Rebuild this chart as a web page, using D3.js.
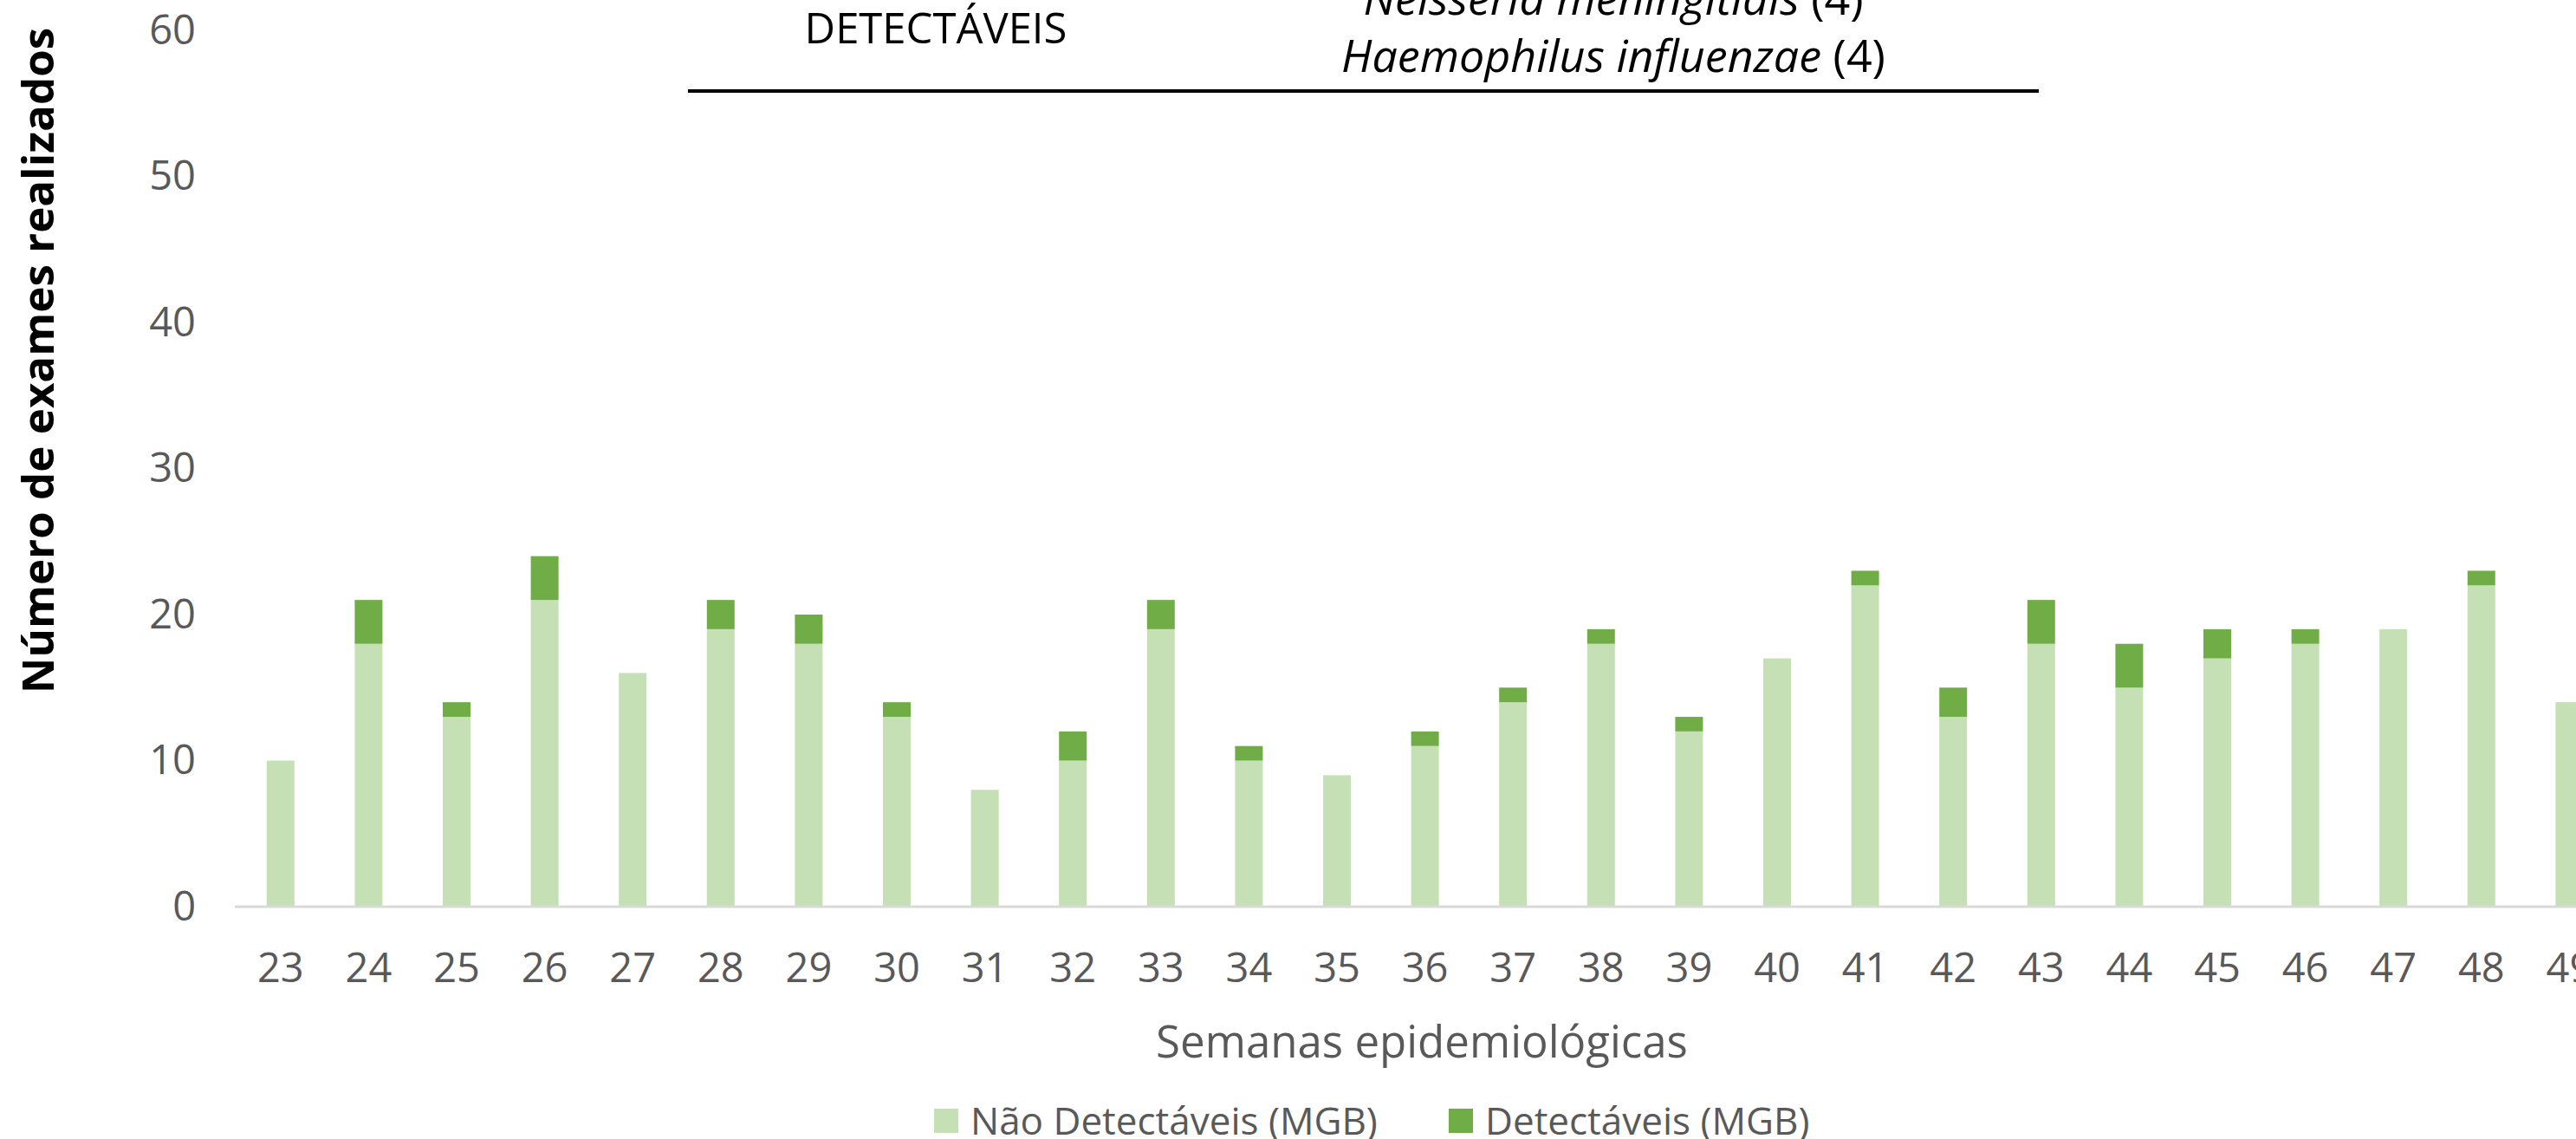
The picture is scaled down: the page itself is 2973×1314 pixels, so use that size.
<!DOCTYPE html>
<html>
<head>
<meta charset="utf-8">
<script src="https://cdn.jsdelivr.net/npm/d3@7"></script>
<style>
    body { margin: 0; background: #fff; }
    text { font-family: "Open Sans", sans-serif; }
</style>
</head>
<body>
<div id="chart"></div>
<script>

const weeks = ["23", "24", "25", "26", "27", "28", "29", "30", "31", "32", "33", "34", "35", "36",
    "37", "38", "39", "40", "41", "42", "43", "44", "45", "46", "47", "48", "49"];
const naoDetectaveis = [10, 18, 13, 21, 16, 19, 18, 13, 8, 10, 19, 10, 9, 11,
    14, 18, 12, 17, 22, 13, 18, 15, 17, 18, 19, 22, 14];
const detectaveis = [0, 3, 1, 3, 0, 2, 2, 1, 0, 2, 2, 1, 0, 1,
    1, 1, 1, 0, 1, 2, 3, 3, 2, 1, 0, 1, 0];
const yTicks = [0, 10, 20, 30, 40, 50, 60];

const seriesNames = ["Não Detectáveis (MGB)", "Detectáveis (MGB)"];
const seriesColors = ["#c5e0b4", "#70ad47"];

function drawStackedBars() {

    const dimesions = {
        width: 2973,
        height: 1314,
        margin: {
            top: 35,
            bottom: 268,
            left: 273,
            right: 0
        },
        step: 101.6
    }

    const data = weeks.map((w, i) => ({ week: w, nao: naoDetectaveis[i], det: detectaveis[i] }));

    const svg = d3.select("#chart")
        .append("svg")
        .attr("width", dimesions.width)
        .attr("height", dimesions.height);

    const baseline = dimesions.height - dimesions.margin.bottom;

    const xScale = d3.scaleBand()
        .domain(weeks)
        .range([dimesions.margin.left, dimesions.margin.left + weeks.length * dimesions.step])
        .paddingInner(0.685)
        .paddingOuter(0.3425);

    const yScale = d3.scaleLinear()
        .domain([0, 60])
        .range([baseline, dimesions.margin.top]);

    const stack = d3.stack().keys(["nao", "det"]);
    const layers = stack(data);

    svg.append("g")
        .selectAll("g")
        .data(layers)
        .join("g")
        .attr("fill", (d, i) => seriesColors[i])
        .selectAll("rect")
        .data(d => d)
        .join("rect")
        .attr("x", d => xScale(d.data.week))
        .attr("width", xScale.bandwidth())
        .attr("y", d => yScale(d[1]))
        .attr("height", d => yScale(d[0]) - yScale(d[1]));

    // x axis
    const xAxis = d3.axisBottom(xScale).tickSize(0).tickPadding(54);
    const xAxisGroup = svg.append("g")
        .attr("transform", `translate(0, ${baseline})`)
        .call(xAxis);
    xAxisGroup.select(".domain")
        .attr("stroke", "#d9d9d9")
        .attr("stroke-width", 3)
        .attr("d", `M${dimesions.margin.left - 2},0H${dimesions.width}`);
    xAxisGroup.selectAll("text")
        .attr("fill", "#595959")
        .style("font-size", "47px");

    // y axis
    const yAxis = d3.axisLeft(yScale).tickValues(yTicks).tickSize(0).tickPadding(45);
    const yAxisGroup = svg.append("g")
        .attr("transform", `translate(${dimesions.margin.left - 2}, 0)`)
        .call(yAxis);
    yAxisGroup.select(".domain").remove();
    yAxisGroup.selectAll("text")
        .attr("fill", "#595959")
        .style("font-size", "47px");

    // axis titles
    svg.append("text")
        .attr("x", 1641)
        .attr("y", 1220)
        .attr("text-anchor", "middle")
        .attr("fill", "#595959")
        .style("font-size", "51px")
        .text("Semanas epidemiológicas");

    svg.append("text")
        .attr("transform", "translate(62, 416) rotate(-90)")
        .attr("text-anchor", "middle")
        .attr("fill", "#000")
        .style("font-size", "51px")
        .style("font-weight", "bold")
        .text("Número de exames realizados");

    // annotation at the top
    svg.append("text")
        .attr("x", 1080)
        .attr("y", 50)
        .attr("text-anchor", "middle")
        .attr("fill", "#000")
        .style("font-size", "49px")
        .text("DETECTÁVEIS");

    const species = [["Neisseria meningitidis", " (4)", 17], ["Haemophilus influenzae", " (4)", 83]];
    species.forEach(s => {
        const t = svg.append("text")
            .attr("x", 1862)
            .attr("y", s[2])
            .attr("text-anchor", "middle")
            .attr("fill", "#000")
            .style("font-size", "52px");
        t.append("tspan").style("font-style", "italic").text(s[0]);
        t.append("tspan").text(s[1]);
    });

    svg.append("line")
        .attr("x1", 794)
        .attr("x2", 2353)
        .attr("y1", 105)
        .attr("y2", 105)
        .attr("stroke", "#000")
        .attr("stroke-width", 4);

    // legend
    const legendX = [1078, 1672];
    const legend = svg.append("g")
        .selectAll("g")
        .data(seriesNames)
        .join("g")
        .attr("transform", (d, i) => `translate(${legendX[i]}, 1293)`);

    legend.append("rect")
        .attr("y", -14)
        .attr("width", 28)
        .attr("height", 28)
        .attr("fill", (d, i) => seriesColors[i]);

    legend.append("text")
        .attr("x", 42)
        .attr("dy", "0.36em")
        .attr("fill", "#595959")
        .style("font-size", "44px")
        .text(d => d);
}

drawStackedBars();
</script>
</body>
</html>
